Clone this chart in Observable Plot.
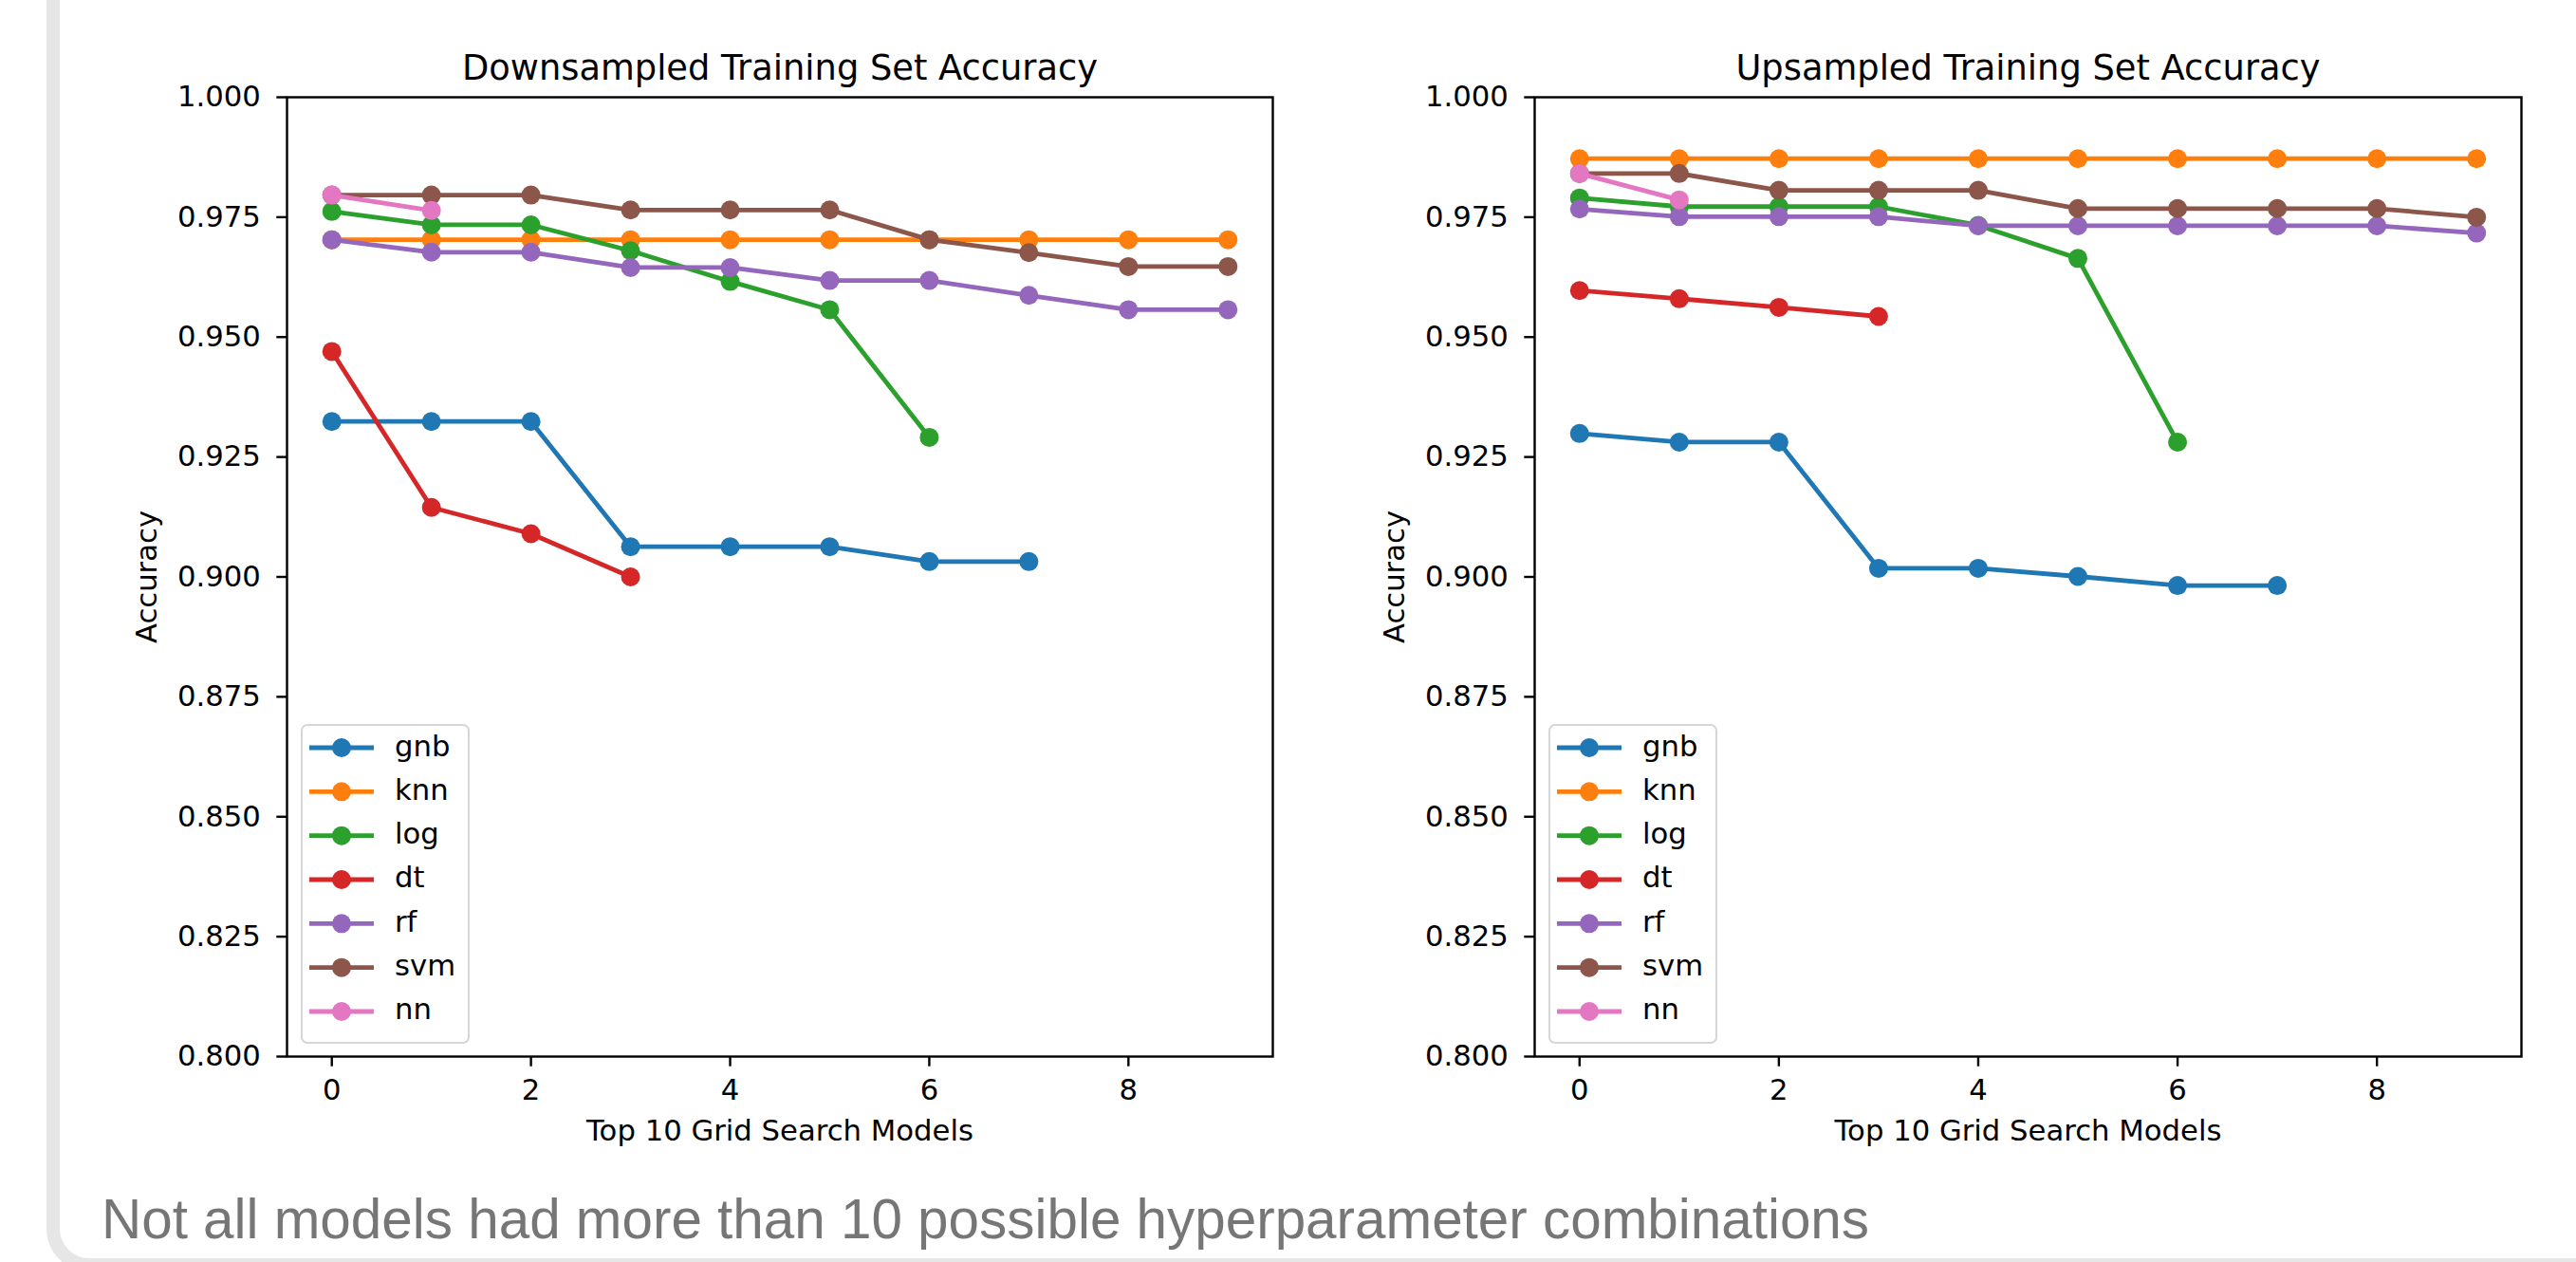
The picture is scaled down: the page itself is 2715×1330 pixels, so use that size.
<!DOCTYPE html>
<html>
<head>
<meta charset="utf-8">
<script src="https://cdn.jsdelivr.net/npm/d3@7"></script>
<script src="https://cdn.jsdelivr.net/npm/@observablehq/plot@0.6"></script>
<style>
  html, body { margin: 0; padding: 0; background: #fff; width: 2715px; height: 1330px; overflow: hidden; position: relative; }
  #card { position: absolute; left: 49px; top: -100px; width: 3000px; height: 1440px; box-sizing: border-box;
          border-left: 14px solid #e6e6e6; border-bottom: 14px solid #e6e6e6; border-bottom-left-radius: 45px; }
  .panel { position: absolute; top: 0; }
  .legend { position: absolute; }
  #caption { position: absolute; left: 107px; top: 1256px; font-family: "Liberation Sans", Arial, sans-serif;
             font-size: 58.4px; line-height: 58px; color: #767676; white-space: nowrap; }
</style>
</head>
<body>
<div id="card"></div>
<div id="left" class="panel" style="left:0px"></div>
<div id="right" class="panel" style="left:1360px"></div>
<div id="caption"></div>
<script>
// ---- data ----
const models = ["gnb", "knn", "log", "dt", "rf", "svm", "nn"];
const colors = ["#1f77b4", "#ff7f0e", "#2ca02c", "#d62728", "#9467bd", "#8c564b", "#e377c2"];
const xTicks = [0, 2, 4, 6, 8];
const yTicks = [0.800, 0.825, 0.850, 0.875, 0.900, 0.925, 0.950, 0.975, 1.000];
const titles = ["Downsampled Training Set Accuracy", "Upsampled Training Set Accuracy"];
const xLabel = "Top 10 Grid Search Models";
const yLabel = "Accuracy";
const captionText = "Not all models had more than 10 possible hyperparameter combinations";

// Downsampled training set
const downGnb = [0.9324, 0.9324, 0.9324, 0.9063, 0.9063, 0.9063, 0.9032, 0.9032];
const downKnn = [0.9703, 0.9703, 0.9703, 0.9703, 0.9703, 0.9703, 0.9703, 0.9703, 0.9703, 0.9703];
const downLog = [0.9762, 0.9734, 0.9734, 0.9680, 0.9616, 0.9557, 0.9291];
const downDt  = [0.9470, 0.9145, 0.9090, 0.9000];
const downRf  = [0.9703, 0.9677, 0.9677, 0.9645, 0.9645, 0.9618, 0.9618, 0.9587, 0.9557, 0.9557];
const downSvm = [0.9796, 0.9796, 0.9796, 0.9765, 0.9765, 0.9765, 0.9703, 0.9676, 0.9647, 0.9647];
const downNn  = [0.9796, 0.9764];

// Upsampled training set
const upGnb = [0.9299, 0.9281, 0.9281, 0.9018, 0.9018, 0.9001, 0.8982, 0.8982];
const upKnn = [0.9872, 0.9872, 0.9872, 0.9872, 0.9872, 0.9872, 0.9872, 0.9872, 0.9872, 0.9872];
const upLog = [0.9790, 0.9772, 0.9772, 0.9772, 0.9733, 0.9664, 0.9281];
const upDt  = [0.9597, 0.9580, 0.9562, 0.9543];
const upRf  = [0.9767, 0.9751, 0.9751, 0.9751, 0.9732, 0.9732, 0.9732, 0.9732, 0.9732, 0.9717];
const upSvm = [0.9841, 0.9841, 0.9806, 0.9806, 0.9806, 0.9768, 0.9768, 0.9768, 0.9768, 0.9750];
const upNn  = [0.9841, 0.9786];

const downSeries = [downGnb, downKnn, downLog, downDt, downRf, downSvm, downNn];
const upSeries = [upGnb, upKnn, upLog, upDt, upRf, upSvm, upNn];

// ---- drawing ----
const FONT = "'DejaVu Sans', 'Liberation Sans', sans-serif";
const FS = 30.7;
const R = 10;
const LW = 4.8;

function drawPanel(el, series, title, dims) {
  const rows = [];
  models.forEach((m, i) => series[i].forEach((v, j) => rows.push({model: m, rank: j, acc: v})));
  const marks = [];
  models.forEach((m) => {
    const d = rows.filter(r => r.model === m);
    marks.push(Plot.line(d, {x: "rank", y: "acc", stroke: "model", strokeWidth: LW, curve: "linear"}));
    marks.push(Plot.dot(d, {x: "rank", y: "acc", fill: "model", r: R, stroke: "none"}));
  });
  const chart = Plot.plot({
    width: dims.width,
    height: 1240,
    marginLeft: dims.marginLeft,
    marginRight: dims.marginRight,
    marginTop: 102,
    marginBottom: 127,
    style: {fontFamily: FONT, fontSize: FS + "px", color: "black", background: "none", overflow: "visible"},
    x: {domain: [-0.45, 9.45]},
    y: {domain: [0.8, 1.0]},
    color: {domain: models, range: colors},
    marks: [
      ...marks,
      Plot.axisY({ticks: yTicks, tickFormat: d3.format(".3f"), tickSize: 10.7, tickPadding: 17, strokeWidth: 2.4,
                  fontSize: FS, label: yLabel, labelAnchor: "center", labelOffset: 159, labelArrow: "none"}),
      Plot.axisX({ticks: xTicks, tickFormat: d3.format("d"), tickSize: 10.7, tickPadding: 13, strokeWidth: 2.4,
                  fontSize: FS, label: xLabel, labelAnchor: "center", labelOffset: 88, labelArrow: "none"}),
      Plot.frame({stroke: "black", strokeWidth: 2.4}),
      Plot.text([title], {frameAnchor: "top", dy: -18.4, lineAnchor: "bottom", fontSize: 36.8, fill: "black"})
    ]
  });
  el.appendChild(chart);

  // legend (lower left, inside the axes)
  const lg = d3.select(el).append("svg")
    .attr("class", "legend")
    .style("left", (dims.marginLeft + 15) + "px")
    .style("top", "763px")
    .attr("width", 178).attr("height", 337)
    .style("font-family", FONT);
  lg.append("rect").attr("x", 1).attr("y", 1).attr("width", 176).attr("height", 335)
    .attr("rx", 6).attr("fill", "white").attr("stroke", "#d6d6d6").attr("stroke-width", 2);
  models.forEach((m, i) => {
    const cy = 25 + i * 46.33;
    lg.append("line").attr("x1", 9).attr("x2", 77).attr("y1", cy).attr("y2", cy)
      .attr("stroke", colors[i]).attr("stroke-width", LW);
    lg.append("circle").attr("cx", 43).attr("cy", cy).attr("r", R).attr("fill", colors[i]);
    lg.append("text").attr("x", 99).attr("y", cy + 8.5).attr("font-size", FS).attr("fill", "black").text(m);
  });
}

drawPanel(document.getElementById("left"), downSeries, titles[0], {width: 1360, marginLeft: 302, marginRight: 19});
drawPanel(document.getElementById("right"), upSeries, titles[1], {width: 1355, marginLeft: 257, marginRight: 58});
document.getElementById("caption").textContent = captionText;
</script>
</body>
</html>
